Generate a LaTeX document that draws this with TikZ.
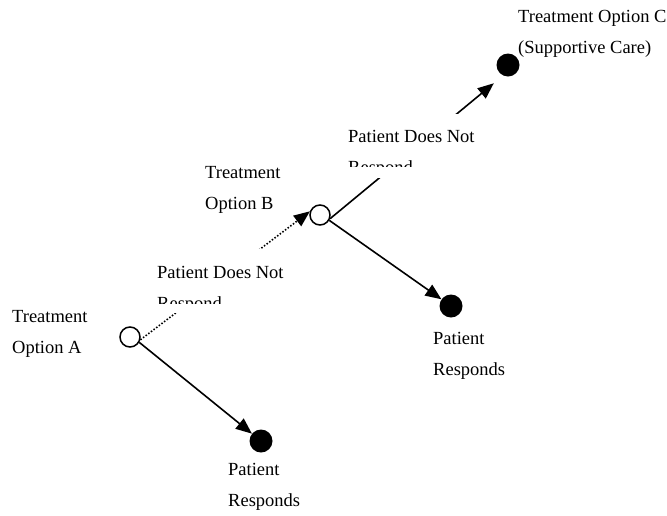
\documentclass[tikz,border=0pt]{standalone}
\usepackage{fontspec}
\setmainfont{Liberation Serif}
\usetikzlibrary{arrows.meta,backgrounds}
\tikzset{
  opt/.style={circle,draw=black,line width=1.5pt,minimum size=20pt,inner sep=0pt},
  outc/.style={circle,fill=black,minimum size=23pt,inner sep=0pt},
  tlbl/.style={font=\fontsize{18.5}{31}\selectfont,align=left,inner sep=0pt,
    anchor=base west},
  gapbox/.style={fill=white,minimum width=140pt,minimum height=64pt,inner sep=0pt},
  tedge/.style={-{Triangle[length=16pt,width=13pt]},line width=1.6pt},
  nredge/.style={tedge,dash pattern=on 1.5pt off 1.8pt},
}

\begin{document}
\begin{tikzpicture}[x=1pt,y=-1pt]
  \useasboundingbox (0,0) rectangle (667,515);
  % decision points and outcomes
  \node[opt] (A) at (130,337) {};
  \node[opt] (B) at (320,215) {};
  \node[outc] (C) at (508,65) {};
  \node[outc] (RA) at (261,441) {};
  \node[outc] (RB) at (451,306) {};
  \begin{scope}[on background layer]
    \draw[tedge] (A.-30) -- (RA);
    \draw[nredge] (A.-15) -- (B.160);
    \draw[tedge] (B.-30) -- (RB);
    \draw[tedge,shorten >=12pt] (B.-20) -- (C.245);
  \end{scope}
  % labels (base = last line)
  \node[tlbl] (la) at (12,353) {Treatment\\Option A};
  \node[tlbl] (lb) at (205,209) {Treatment\\Option B};
  \node[tlbl] (lc) at (518,53) {Treatment Option C\\(Supportive Care)};
  \node[tlbl] (lra) at (228,506) {Patient\\Responds};
  \node[tlbl] (lrb) at (433,375) {Patient\\Responds};
  % text boxes over the "does not respond" branches
  \node[gapbox] (gap1) at (220,281) {};
  \begin{scope}
    \clip (gap1.north west) rectangle ([yshift=10pt]gap1.south east);
    \node[tlbl] (nr1) at (157,309) {Patient Does Not\\Respond};
  \end{scope}
  \node[gapbox] (gap2) at (410,145.5) {};
  \begin{scope}
    \clip (gap2.north west) rectangle ([yshift=11pt]gap2.south east);
    \node[tlbl] (nr2) at (348,173) {Patient Does Not\\Respond};
  \end{scope}
\end{tikzpicture}
\end{document}
